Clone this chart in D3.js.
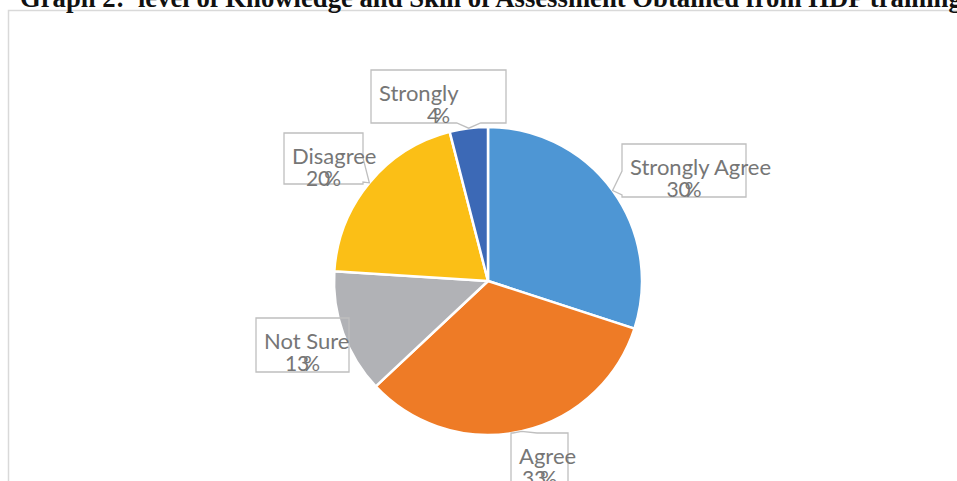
<!DOCTYPE html>
<html>
<head>
<meta charset="utf-8">
<script src="https://cdn.jsdelivr.net/npm/d3@7"></script>
<style>
  body { margin: 0; background: #fff; }
</style>
</head>
<body>
<div id="chart"></div>
<script>
const title = "Graph 2:  level of Knowledge and Skill of Assessment Obtained from HDP training";
const categories = ["Strongly Agree", "Agree", "Not Sure", "Disagree", "Strongly"];
const values = [30, 33, 13, 20, 4];
const colors = ["#4E96D4", "#EE7B26", "#B1B2B6", "#FBBF16", "#3C69B6"];

// callout boxes (layout only): left, top, width, height
const boxes = {
  "Strongly Agree": [622, 144, 124, 53],
  "Agree": [511, 433, 57, 60],
  "Not Sure": [256, 318, 93, 54],
  "Disagree": [284, 133, 79, 51],
  "Strongly": [371, 70, 135, 53]
};

const width = 957, height = 481;
const cx = 488, cy = 281, radius = 154;

const svg = d3.select("#chart")
    .append("svg")
    .attr("width", width)
    .attr("height", height);

// chart frame
svg.append("rect")
    .attr("x", 8.5).attr("y", 10.5)
    .attr("width", 1000).attr("height", 600)
    .attr("fill", "none")
    .attr("stroke", "#D9D9D9")
    .attr("stroke-width", 1.5);

svg.append("text")
    .attr("x", 20).attr("y", 7)
    .attr("xml:space", "preserve")
    .style("white-space", "pre")
    .style("font-family", "'Liberation Serif', 'Times New Roman', serif")
    .style("font-weight", "bold")
    .style("font-size", "26.7px")
    .attr("fill", "#111")
    .text(title);

const data = categories.map((c, i) => ({ name: c, value: values[i], color: colors[i] }));

const pie = d3.pie().value(d => d.value).sort(null);
const arcs = pie(data);
const arc = d3.arc().innerRadius(0).outerRadius(radius);

const g = svg.append("g").attr("transform", `translate(${cx},${cy})`);

g.selectAll("path")
    .data(arcs)
    .enter()
    .append("path")
    .attr("d", arc)
    .attr("fill", d => d.data.color)
    .attr("stroke", "#fff")
    .attr("stroke-width", 2.5)
    .attr("stroke-linejoin", "round");

// callout path: box with a notch pointing at the slice edge
function callout(b, ax, ay) {
  const [x0, y0, w, h] = b;
  const x1 = x0 + w, y1 = y0 + h;
  const over = {
    left: x0 - ax, right: ax - x1, top: y0 - ay, bottom: ay - y1
  };
  const side = Object.keys(over).reduce((a, k) => over[k] > over[a] ? k : a, "left");
  if (over[side] <= 0) return `M${x0},${y0}H${x1}V${y1}H${x0}Z`;
  const half = 12;
  if (side === "bottom" || side === "top") {
    const px = Math.max(x0 + half + 2, Math.min(x1 - half - 2, ax));
    if (side === "bottom")
      return `M${x0},${y0}H${x1}V${y1}H${px + half}L${ax},${ay}L${px - half},${y1}H${x0}Z`;
    return `M${x0},${y0}H${px - half}L${ax},${ay}L${px + half},${y0}H${x1}V${y1}H${x0}Z`;
  }
  const py = Math.max(y0 + half + 2, Math.min(y1 - half - 2, ay));
  if (side === "right")
    return `M${x0},${y0}H${x1}V${py - half}L${ax},${ay}L${x1},${py + half}V${y1}H${x0}Z`;
  return `M${x0},${y0}H${x1}V${y1}H${x0}V${py + half}L${ax},${ay}L${x0},${py - half}Z`;
}

const labels = svg.append("g");

arcs.forEach(d => {
  const mid = (d.startAngle + d.endAngle) / 2;
  const ax = cx + radius * Math.sin(mid);
  const ay = cy - radius * Math.cos(mid);
  const b = boxes[d.data.name];

  labels.append("path")
      .attr("d", callout(b, ax, ay))
      .attr("fill", "none")
      .attr("stroke", "#BFBFBF")
      .attr("stroke-width", 1.3);

  labels.append("text")
      .attr("x", b[0] + 8)
      .attr("y", b[1] + 31)
      .style("font-family", "Lato, 'Open Sans', sans-serif")
      .style("font-size", "22px")
      .attr("fill", "#767676")
      .text(d.data.name);

  const pct = labels.append("text")
      .attr("x", b[0] + b[2] / 2)
      .attr("y", b[1] + 53)
      .attr("text-anchor", "middle")
      .style("font-family", "Lato, 'Open Sans', sans-serif")
      .style("font-size", "21px")
      .attr("fill", "#767676");
  pct.append("tspan").text(d.data.value);
  pct.append("tspan").attr("dx", -6).text("%");
});
</script>
</body>
</html>
